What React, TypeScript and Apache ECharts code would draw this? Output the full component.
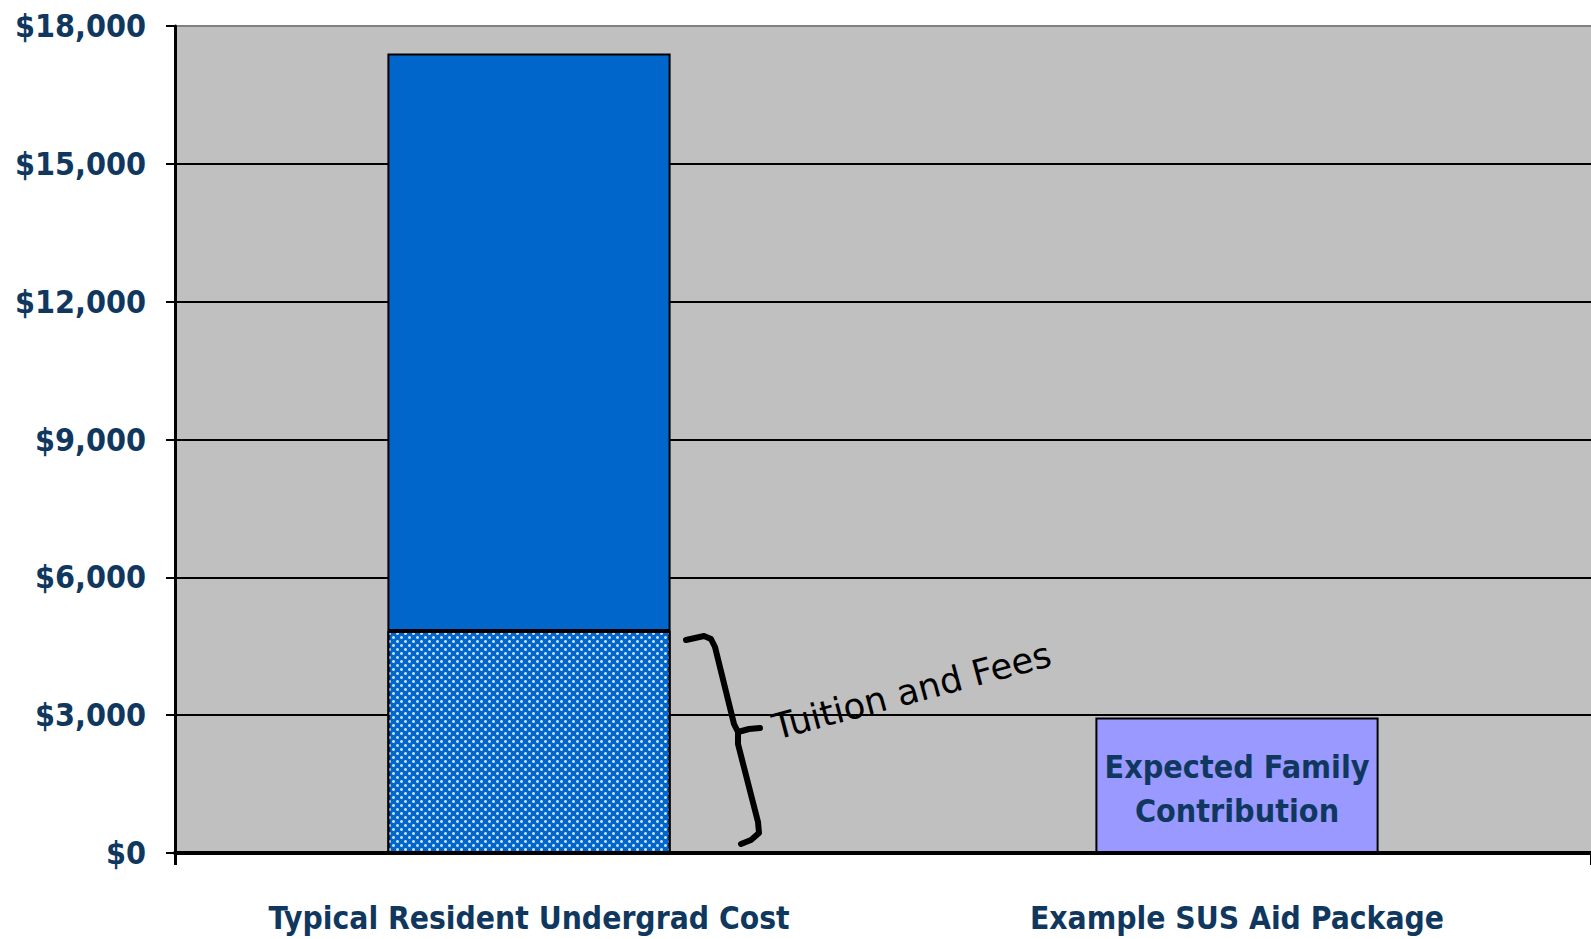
import React, { useEffect, useRef } from "react";
import * as echarts from "echarts";

const categories = ["Typical Resident Undergrad Cost", "Example SUS Aid Package"];
const tuitionAndFees = [4830, "-"];
const otherCosts = [12570, "-"];
const expectedFamilyContribution = ["-", 2950];
const yTicks = { min: 0, max: 18000, interval: 3000 };

const NAVY = "#10385f";
const FONT = "'DejaVu Sans Condensed', 'DejaVu Sans', sans-serif";

export default function App() {
  const ref = useRef<HTMLDivElement>(null);
  useEffect(() => {
    document.body.style.margin = "0";
    const chart = echarts.init(ref.current!, undefined, { renderer: "svg" });
    const gridLineColors = ["#000", "#000", "#000", "#000", "#000", "#000", "#808080"];
    const bracketStyle = { stroke: "#000", lineWidth: 6, fill: null, lineCap: "round", lineJoin: "round" };
    chart.setOption({
      animation: false,
      backgroundColor: "#ffffff",
      grid: {
        left: 175,
        right: 0,
        top: 26,
        bottom: 86,
        show: true,
        backgroundColor: "#C0C0C0",
        borderWidth: 0,
      },
      xAxis: {
        type: "category",
        data: categories,
        axisLine: { show: true, lineStyle: { color: "#000", width: 4 } },
        axisTick: {
          show: true,
          length: 12,
          interval: (i: number) => i === 0,
          lineStyle: { color: "#000", width: 3 },
        },
        axisLabel: {
          interval: 0,
          margin: 49,
          color: NAVY,
          fontFamily: FONT,
          fontWeight: "bold",
          fontSize: 31.5,
        },
        splitLine: { show: false },
      },
      yAxis: {
        type: "value",
        min: yTicks.min,
        max: yTicks.max,
        interval: yTicks.interval,
        axisLine: { show: true, lineStyle: { color: "#000", width: 3 } },
        axisTick: { show: true, length: 9, lineStyle: { color: "#000", width: 2 } },
        axisLabel: {
          margin: 29,
          color: NAVY,
          fontFamily: FONT,
          fontWeight: "bold",
          fontSize: 32,
          formatter: (v: number) => "$" + v.toLocaleString("en-US"),
        },
        splitLine: { show: true, lineStyle: { color: gridLineColors, width: 2 } },
      },
      series: [
        {
          name: "Tuition and Fees",
          type: "bar",
          stack: "cost",
          barWidth: "40%",
          data: tuitionAndFees,
          itemStyle: {
            color: "#0066CC",
            borderColor: "#000",
            borderWidth: 2,
            decal: {
              symbol: "circle",
              symbolSize: 1,
              color: "rgba(255,255,255,0.8)",
              dashArrayX: [[3, 5], [0, 4, 3, 1]],
              dashArrayY: [3, 1],
              rotation: 0,
            },
          },
        },
        {
          name: "Other Costs",
          type: "bar",
          stack: "cost",
          barWidth: "40%",
          data: otherCosts,
          itemStyle: { color: "#0066CC", borderColor: "#000", borderWidth: 2 },
        },
        {
          name: "Expected Family Contribution",
          type: "bar",
          stack: "cost",
          barWidth: "40%",
          data: expectedFamilyContribution,
          itemStyle: { color: "#9999FF", borderColor: "#000", borderWidth: 2 },
          label: {
            show: true,
            position: "inside",
            formatter: "Expected Family\nContribution",
            color: NAVY,
            fontFamily: FONT,
            fontWeight: "bold",
            fontSize: 32,
            lineHeight: 44,
            offset: [0, 4],
          },
        },
      ],
      graphic: [
        {
          type: "polyline",
          shape: {
            points: [
              [686, 640],
              [704, 636],
              [711, 639],
              [715, 647],
              [734, 724],
              [738, 732],
            ],
          },
          style: bracketStyle,
        },
        {
          type: "polyline",
          shape: { points: [[738, 732], [749, 729], [760, 728]] },
          style: bracketStyle,
        },
        {
          type: "polyline",
          shape: {
            points: [
              [738, 732],
              [738, 744],
              [758, 822],
              [759, 833],
              [751, 840],
              [741, 844],
            ],
          },
          style: bracketStyle,
        },
        {
          type: "text",
          x: 778,
          y: 745,
          rotation: (15 * Math.PI) / 180,
          style: {
            text: "Tuition and Fees",
            fill: "#000",
            font: "35.5px 'DejaVu Sans', sans-serif",
            textAlign: "left",
            textVerticalAlign: "bottom",
          },
        },
      ],
    });
    return () => chart.dispose();
  }, []);
  return (
    <div
      ref={ref}
      style={{ position: "absolute", left: 0, top: 0, width: 1591, height: 939 }}
    />
  );
}
